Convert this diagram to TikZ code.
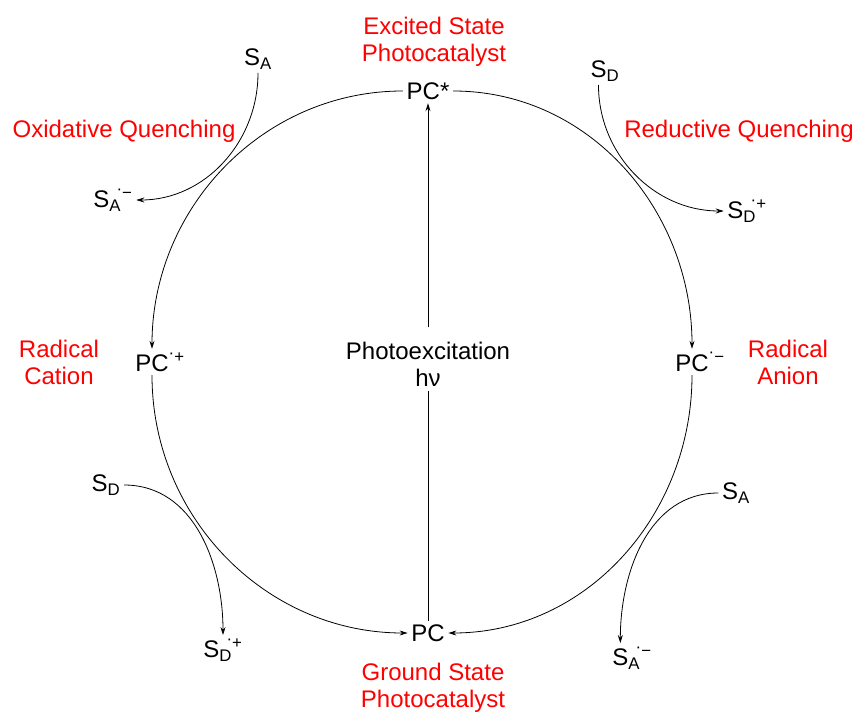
\documentclass[tikz,border=0pt]{standalone}
\usepackage{fontspec}
\setmainfont{Liberation Sans}
\usepackage{tikz}
\usetikzlibrary{arrows.meta}

\newcommand{\raddot}{\raisebox{0.25em}{·}}
\newcommand{\radsup}[1]{\rlap{\textsuperscript{\raddot#1}}}
\newcommand{\radion}[2]{S\rlap{\textsubscript{#1}}\kern0.3em\textsuperscript{\raddot#2}}

\begin{document}
\begin{tikzpicture}[x=1pt,y=1pt,
    every node/.style={font=\fontsize{24}{27}\selectfont},
    redtext/.style={text=red,align=center},
    >={Stealth[length=8pt,width=5pt]},
    line width=0.8pt]
        \useasboundingbox (0,0) rectangle (857,713);

        % catalyst states
        \node (pcstar) at (428,622) {PC*};
        \node (pc) at (428,80) {PC};
        \node (pcplus) at (152,351) {PC\radsup{+}};
        \node (pcminus) at (692,351) {PC\radsup{−}};
        \node[align=center,inner sep=4pt] (photo) at (428,349) {Photoexcitation\\hν};

        % red captions
        \node[redtext] (excited) at (434,671) {Excited State\\Photocatalyst};
        \node[redtext] (ground) at (433,25) {Ground State\\Photocatalyst};
        \node[redtext] (oxq) at (124,582) {Oxidative Quenching};
        \node[redtext] (redq) at (739,582) {Reductive Quenching};
        \node[redtext] (cation) at (59,351) {Radical\\Cation};
        \node[redtext] (anion) at (788,351) {Radical\\Anion};

        % substrates
        \node (sa1) at (258,654) {S\textsubscript{A}};
        \node (sam1) at (113,513) {\radion{A}{−}};
        \node (sd1) at (605,642) {S\textsubscript{D}};
        \node (sdp1) at (747,502) {\radion{D}{+}};
        \node (sa2) at (736,220) {S\textsubscript{A}};
        \node (sam2) at (632,55) {\radion{A}{−}};
        \node (sd2) at (106,228) {S\textsubscript{D}};
        \node (sdp2) at (223,63) {\radion{D}{+}};

        % cycle
        \draw[->] (pcstar.east) to[out=0,in=90] (pcminus.north);
        \draw[->] (pcstar.west) to[out=180,in=90] (pcplus.north);
        \draw[->] (pcplus.south) to[out=-90,in=180] (pc.west);
        \draw[->] (pcminus.south) to[out=-90,in=0] (pc.east);
        \draw[->,shorten <=10pt] (pc) -- (photo) -- (pcstar);

        % electron transfer
        \draw[->] (sa1.south) to[out=-90,in=0] (sam1.east);
        \draw[->] (sd1.-115) to[out=-90,in=180] (sdp1.west);
        \draw[->] (sa2.west) to[out=180,in=90] (sam2.128);
        \draw[->] (sd2.east) to[out=0,in=90] (sdp2.north);
    \end{tikzpicture}
\end{document}
